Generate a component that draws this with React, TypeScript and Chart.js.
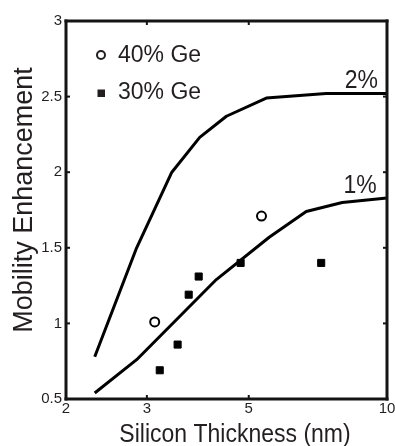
import React, { useEffect, useRef } from "react";
import { Chart, registerables } from "chart.js";

Chart.register(...registerables);

// ---- data ----
const xTicks = [2, 3, 5, 10];
const yTicks = [0.5, 1, 1.5, 2, 2.5, 3];

const curve2X = [2.31, 2.85, 3.4, 3.91, 4.47, 5.46, 7.37, 10];
const curve2Y = [0.78, 1.5, 2.0, 2.23, 2.37, 2.49, 2.52, 2.52];

const curve1X = [2.31, 2.85, 4.25, 5.54, 6.67, 7.99, 10];
const curve1Y = [0.54, 0.76, 1.29, 1.57, 1.74, 1.8, 1.83];

const ge40X = [3.12, 5.33];
const ge40Y = [1.01, 1.71];

const ge30X = [3.2, 3.5, 3.7, 3.89, 4.8, 7.19];
const ge30Y = [0.69, 0.86, 1.19, 1.31, 1.4, 1.4];

const curveLabels = ["2%", "1%"];
const curveLabelX = [9.56, 9.5];
const curveLabelY = [2.56, 1.86];

const legendLabels = ["40% Ge", "30% Ge"];
const xTitle = "Silicon Thickness (nm)";
const yTitle = "Mobility Enhancement";

const INK = "#231f20";
const FRAME = "#141414";
const FONT = "'Liberation Sans', Arial, sans-serif";

function zip(xs: number[], ys: number[]) {
  return xs.map((x, i) => ({ x, y: ys[i] }));
}

function stretchText(ctx: CanvasRenderingContext2D, text: string, x: number, y: number, sy: number) {
  ctx.save();
  ctx.translate(x, y);
  ctx.scale(1, sy);
  ctx.fillText(text, 0, 0);
  ctx.restore();
}

const decor = {
  id: "decor",
  afterDraw(chart: any) {
    const ctx: CanvasRenderingContext2D = chart.ctx;
    const a = chart.chartArea;
    const xs = chart.scales.x;
    const ys = chart.scales.y;
    const L = a.left, R = a.right, T = a.top, B = a.bottom;
    ctx.save();

    // frame
    ctx.fillStyle = FRAME;
    ctx.fillRect(L - 1.5, T - 1.5, R - L + 3, 3);
    ctx.fillRect(L - 1.5, B - 1.5, R - L + 3, 3);
    ctx.fillRect(L - 1.5, T - 1.5, 3, B - T + 3);
    ctx.fillRect(R - 1.5, T - 1.5, 3, B - T + 3);

    // inward tick marks
    xTicks.forEach((v) => {
      const px = xs.getPixelForValue(v);
      if (px > L + 3 && px < R - 3) {
        ctx.fillRect(px - 1, B - 4, 2, 3);
        ctx.fillRect(px - 1, T + 1, 2, 3);
      }
    });
    yTicks.forEach((v) => {
      const py = ys.getPixelForValue(v);
      if (py > T + 3 && py < B - 3) {
        ctx.fillRect(L + 1, py - 1, 3, 2);
        ctx.fillRect(R - 4, py - 1, 3, 2);
      }
    });

    // legend
    ctx.fillStyle = INK;
    ctx.strokeStyle = INK;
    ctx.font = `23px ${FONT}`;
    ctx.textAlign = "left";
    ctx.textBaseline = "middle";
    const lx = L + 35;
    const ly = T + 34;
    ctx.lineWidth = 2;
    ctx.beginPath();
    ctx.arc(lx, ly, 4, 0, Math.PI * 2);
    ctx.stroke();
    ctx.fillText(legendLabels[0], lx + 17, ly + 1);
    ctx.fillRect(lx - 3.5, ly + 38 - 3.5, 7.5, 7.5);
    ctx.fillText(legendLabels[1], lx + 17, ly + 38);

    // curve labels
    ctx.textAlign = "right";
    ctx.textBaseline = "alphabetic";
    curveLabels.forEach((t, i) => {
      stretchText(ctx, t, xs.getPixelForValue(curveLabelX[i]), ys.getPixelForValue(curveLabelY[i]), 1.15);
    });

    // x title
    ctx.textAlign = "center";
    stretchText(ctx, xTitle, (L + R) / 2 + 8.5, B + 43, 1.15);

    // y title
    ctx.save();
    ctx.translate(32, (T + B) / 2 - 10);
    ctx.rotate(-Math.PI / 2);
    ctx.font = `27px ${FONT}`;
    ctx.textAlign = "center";
    ctx.fillText(yTitle, 0, 0);
    ctx.restore();

    ctx.restore();
  },
};

export default function App() {
  const ref = useRef<HTMLCanvasElement | null>(null);

  useEffect(() => {
    if (!ref.current) return;
    const lineStyle = {
      borderColor: "#000",
      borderWidth: 3,
      showLine: true,
      pointRadius: 0,
      fill: false,
      tension: 0,
      borderJoinStyle: "round" as const,
      borderCapStyle: "butt" as const,
    };
    const chart = new Chart(ref.current, {
      type: "scatter",
      data: {
        datasets: [
          { label: curveLabels[0], data: zip(curve2X, curve2Y), ...lineStyle },
          { label: curveLabels[1], data: zip(curve1X, curve1Y), ...lineStyle },
          {
            label: legendLabels[0],
            data: zip(ge40X, ge40Y),
            pointStyle: "circle",
            pointRadius: 4.5,
            borderWidth: 2,
            borderColor: "#000",
            backgroundColor: "#fff",
          },
          {
            label: legendLabels[1],
            data: zip(ge30X, ge30Y),
            pointStyle: "rect",
            pointRadius: 5,
            borderWidth: 1,
            borderColor: "#000",
            backgroundColor: "#000",
          },
        ],
      },
      options: {
        responsive: false,
        animation: false,
        events: [],
        layout: { padding: { top: 21, right: 8, left: 0, bottom: 0 } },
        plugins: {
          legend: { display: false },
          tooltip: { enabled: false },
          title: { display: false },
        },
        scales: {
          x: {
            type: "logarithmic",
            min: 2,
            max: 10,
            grid: { display: false, drawTicks: false },
            border: { display: false },
            afterBuildTicks: (s: any) => {
              s.ticks = xTicks.map((v) => ({ value: v }));
            },
            afterFit: (s: any) => {
              s.height = 47;
              s.paddingLeft = 0;
              s.paddingRight = 0;
            },
            ticks: {
              autoSkip: false,
              maxRotation: 0,
              padding: 1,
              color: INK,
              font: { family: FONT, size: 15 },
              callback: (v: any) => String(v),
            },
          },
          y: {
            type: "linear",
            min: 0.5,
            max: 3,
            grid: { display: false, drawTicks: false },
            border: { display: false },
            afterBuildTicks: (s: any) => {
              s.ticks = yTicks.map((v) => ({ value: v }));
            },
            afterFit: (s: any) => {
              s.width = 66;
              s.paddingTop = 0;
              s.paddingBottom = 0;
            },
            ticks: {
              autoSkip: false,
              padding: 4,
              color: INK,
              font: { family: FONT, size: 15 },
              callback: (v: any) => String(v),
            },
          },
        },
      },
      plugins: [decor],
    } as any);
    return () => chart.destroy();
  }, []);

  return (
    <div style={{ position: "fixed", left: 0, top: 0, width: 395, height: 446, background: "#fff" }}>
      <canvas ref={ref} width={395} height={446} style={{ display: "block", width: 395, height: 446 }} />
    </div>
  );
}
